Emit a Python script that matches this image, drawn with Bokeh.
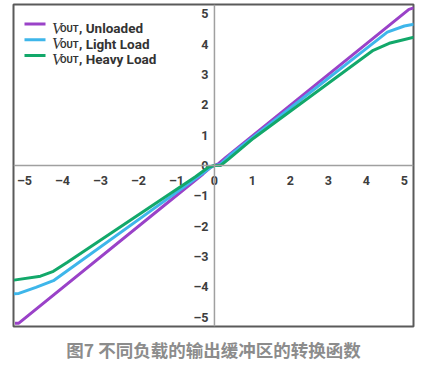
from bokeh.plotting import figure
from bokeh.models import Range1d, Span, Label, Arrow, Title, ColumnDataSource
from bokeh.core.properties import value
from bokeh.embed import file_html
from bokeh.resources import INLINE

# ---- data ----
unloaded_x = [-5.25, -5.15, -0.3, -0.1, 0.0, 0.1, 0.3, 5.12, 5.25]
unloaded_y = [-5.2, -5.2, -0.28, -0.06, 0.0, 0.05, 0.27, 5.15, 5.2]

light_x = [-5.28, -5.15, -4.7, -4.24, -0.35, -0.1, 0.0, 0.15, 0.4, 4.55, 5.0, 5.25]
light_y = [-4.23, -4.22, -4.02, -3.8, -0.3, -0.06, 0.0, 0.03, 0.33, 4.4, 4.6, 4.66]

heavy_x = [-5.28, -4.58, -4.24, -3.87, -0.5, -0.15, 0.0, 0.16, 0.38, 1.03, 4.18, 4.6, 5.25]
heavy_y = [-3.78, -3.65, -3.49, -3.19, -0.37, -0.05, 0.0, 0.0, 0.22, 0.9, 3.8, 4.03, 4.23]

series_names = ["Unloaded", "Light Load", "Heavy Load"]
series_colors = ["#9a42c8", "#3eb6ea", "#12a86a"]

x_ticks = [-5, -4, -3, -2, -1, 0, 1, 2, 3, 4, 5]
y_ticks = [-5, -4, -3, -2, -1, 0, 1, 2, 3, 4, 5]

caption = "图7 不同负载的输出缓冲区的转换函数"

def tick_text(v):
    return ("–" + str(-v)) if v < 0 else str(v)

W, H = 421, 370
BL, BR, BT, BB = 13, 8, 4, 40
frame_h = H - BT - BB

p = figure(width=W, height=H,
           x_range=Range1d(-5.29, 5.24), y_range=Range1d(-5.31, 5.31),
           x_axis_type=None, y_axis_type=None,
           min_border_left=BL, min_border_right=BR, min_border_top=BT, min_border_bottom=BB,
           toolbar_location=None, output_backend="svg")
p.outline_line_color = "#5a5a5a"
p.outline_line_width = 2
p.background_fill_color = "white"
p.border_fill_color = "white"

# axes through the origin
p.add_layout(Span(location=0, dimension="width", line_color="#a0a0a0", line_width=1.5))
p.add_layout(Span(location=0, dimension="height", line_color="#a0a0a0", line_width=1.5))

# tick labels
xs = ColumnDataSource(dict(x=x_ticks, y=[0] * len(x_ticks), t=[tick_text(v) for v in x_ticks]))
p.text(x="x", y="y", text="t", source=xs, text_align="center", text_baseline="middle",
       y_offset=15, text_font=value("Roboto"), text_font_style="bold",
       text_font_size="12.5px", text_color="#3d3d3d")
ys = ColumnDataSource(dict(x=[0] * len(y_ticks), y=y_ticks, t=[tick_text(v) for v in y_ticks]))
p.text(x="x", y="y", text="t", source=ys, text_align="right", text_baseline="middle",
       x_offset=-6, text_font=value("Roboto"), text_font_style="bold",
       text_font_size="12.5px", text_color="#3d3d3d")

# series
for xx, yy, c in [(unloaded_x, unloaded_y, series_colors[0]),
                  (light_x, light_y, series_colors[1]),
                  (heavy_x, heavy_y, series_colors[2])]:
    p.line(xx, yy, line_color=c, line_width=3)

# manual legend (screen units, from frame bottom-left)
for i, (name, c) in enumerate(zip(series_names, series_colors)):
    row = frame_h - 23.5 - 15.7 * i
    p.add_layout(Arrow(x_start=11, y_start=row, x_end=32, y_end=row,
                       start_units="screen", end_units="screen",
                       start=None, end=None, line_color=c, line_width=3))
    base = row - 4
    p.add_layout(Label(x=38.5, y=base, x_units="screen", y_units="screen", text="V",
                       text_font="Liberation Serif", text_font_style="italic",
                       text_font_size="16px", text_color="#333333",
                       text_baseline="alphabetic"))
    p.add_layout(Label(x=46.5, y=base - 0.5, x_units="screen", y_units="screen", text="OUT",
                       text_font="Roboto", text_font_style="bold", text_font_size="9.5px",
                       text_color="#333333", text_baseline="alphabetic"))
    p.add_layout(Label(x=65.5, y=base, x_units="screen", y_units="screen", text=", " + name,
                       text_font="Roboto", text_font_style="bold",
                       text_font_size="13.5px", text_color="#333333",
                       text_baseline="alphabetic"))

p.add_layout(Title(text=caption, align="center", text_font="Noto Sans CJK SC",
                   text_font_style="bold", text_font_size="17.5px", text_color="#8c8c8c",
                   standoff=17), "below")

open("out.html", "w").write(file_html(p, INLINE))
